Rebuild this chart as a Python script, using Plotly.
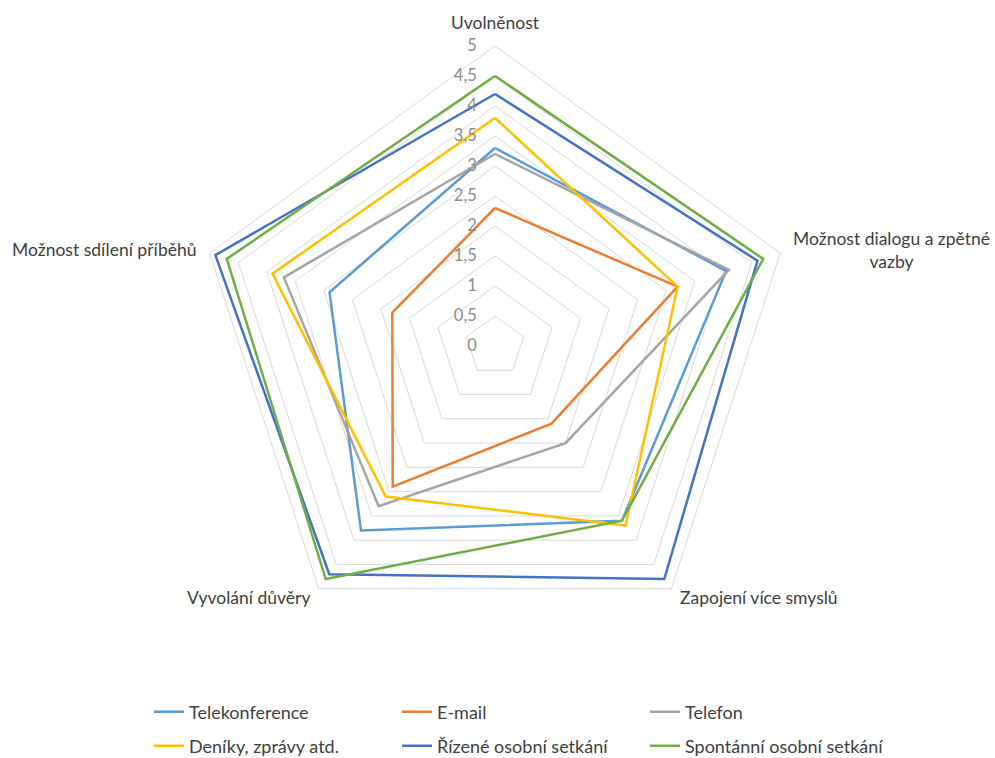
import math
import plotly.graph_objects as go

# Hodnocení komunikačních kanálů (škála 0–5)
categories = [
    "Uvolněnost",
    "Možnost dialogu a zpětné vazby",
    "Zapojení více smyslů",
    "Vyvolání důvěry",
    "Možnost sdílení příběhů",
]
# popisky os (zalomení dlouhého názvu)
axis_labels = [
    "Uvolněnost",
    "Možnost dialogu a zpětné<br>vazby",
    "Zapojení více smyslů",
    "Vyvolání důvěry",
    "Možnost sdílení příběhů",
]

telekonference = [3.3, 4.05, 3.6, 3.8, 2.9]
email = [2.3, 3.2, 1.6, 2.9, 1.8]
telefon = [3.2, 4.1, 2.0, 3.3, 3.7]
deniky = [3.8, 3.2, 3.7, 3.1, 3.9]
rizene = [4.2, 4.6, 4.8, 4.7, 4.9]
spontanni = [4.5, 4.7, 3.6, 4.8, 4.7]

series = [
    ("Telekonference", telekonference, "#5B9BD5", "legend"),
    ("E-mail", email, "#ED7D31", "legend"),
    ("Telefon", telefon, "#A5A5A5", "legend"),
    ("Deníky, zprávy atd.", deniky, "#FFC000", "legend2"),
    ("Řízené osobní setkání", rizene, "#4472C4", "legend2"),
    ("Spontánní osobní setkání", spontanni, "#70AD47", "legend2"),
]

FONT = "Lato"
TEXT = "#404040"
GRID = "#D9D9D9"
R_MAX = 5

fig = go.Figure()
for name, vals, color, leg in series:
    fig.add_trace(go.Scatterpolar(
        r=vals + vals[:1],
        theta=categories + categories[:1],
        mode="lines",
        name=name,
        line=dict(color=color, width=2.5),
        legend=leg,
    ))

W, H = 995, 758
cx, cy, rad = 495, 346, 300

# Popisky os kolem vnějšího pětiúhelníku (po směru hodinových ručiček od vrcholu)
label_pad = 11
annotations = []
n = len(categories)
for i, text in enumerate(axis_labels):
    ang = math.radians(90 - 360 * i / n)
    c, s = math.cos(ang), math.sin(ang)
    px = cx + (rad + label_pad) * c
    py = cy - (rad + label_pad) * s
    if abs(c) < 0.1:
        xa, ya = "center", ("bottom" if s > 0 else "top")
    else:
        xa, ya = ("left" if c > 0 else "right"), "middle"
    annotations.append(dict(
        text=text, x=px / W, y=(H - py) / H,
        xref="paper", yref="paper",
        xanchor=xa, yanchor=ya, align="center",
        showarrow=False,
        font=dict(family=FONT, size=17.5, color=TEXT),
    ))

legend_common = dict(
    orientation="h",
    x=149 / W, xanchor="left",
    yanchor="middle",
    entrywidth=203, entrywidthmode="pixels",
    font=dict(family=FONT, size=18, color=TEXT),
    bgcolor="rgba(0,0,0,0)",
)

fig.update_layout(
    width=W,
    height=H,
    margin=dict(l=0, r=0, t=0, b=0, autoexpand=False),
    paper_bgcolor="white",
    plot_bgcolor="white",
    separators=", ",
    font=dict(family=FONT, size=17, color=TEXT),
    polar=dict(
        domain=dict(
            x=[(cx - rad) / W, (cx + rad) / W],
            y=[(H - cy - rad) / H, (H - cy + rad) / H],
        ),
        bgcolor="white",
        gridshape="linear",
        angularaxis=dict(
            rotation=90,
            direction="clockwise",
            showgrid=False,
            showline=True,
            linecolor=GRID,
            linewidth=1,
            ticks="",
            showticklabels=False,
        ),
        radialaxis=dict(
            range=[0, R_MAX],
            dtick=0.5,
            angle=90,
            side="counterclockwise",
            showline=False,
            ticks="outside",
            ticklen=12,
            tickcolor="rgba(0,0,0,0)",
            gridcolor=GRID,
            gridwidth=1,
            tickangle=90,
            tickfont=dict(family=FONT, size=16.5, color="#8C8C8C"),
        ),
    ),
    annotations=annotations,
    legend=dict(legend_common, y=(H - 712) / H),
    legend2=dict(legend_common, y=(H - 746) / H),
    showlegend=True,
)

fig.write_html("out.html")
